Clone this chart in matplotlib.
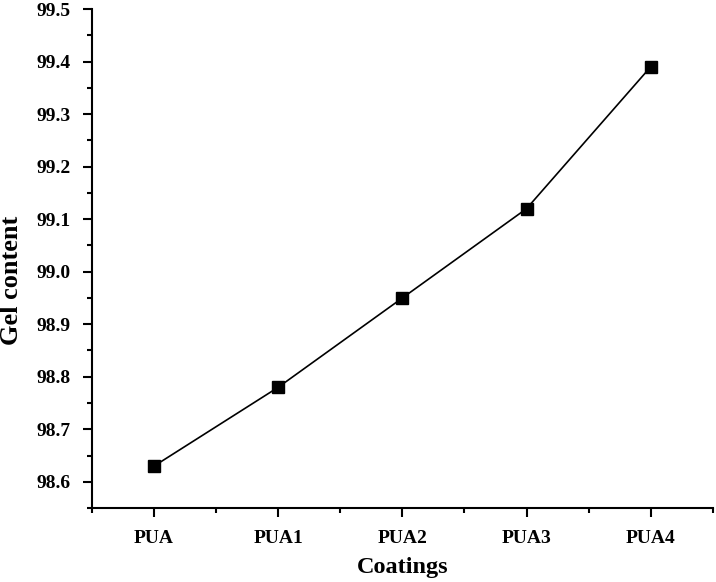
import matplotlib
matplotlib.use('Agg')
import matplotlib.pyplot as plt
from matplotlib.ticker import MultipleLocator

coatings = ['PUA', 'PUA1', 'PUA2', 'PUA3', 'PUA4']
gel_content = [98.63, 98.78, 98.95, 99.12, 99.39]

plt.rcParams['font.family'] = ['Liberation Serif', 'DejaVu Serif']
plt.rcParams['font.weight'] = 'bold'

fig = plt.figure(figsize=(7.16, 5.82), dpi=100)
ax = fig.add_axes([0.1285, 0.127, 0.867, 0.8575])

x = list(range(len(coatings)))
ax.plot(x, gel_content, color='black', lw=1.2, marker='s', ms=8.5,
        mfc='black', mec='black')

ax.set_xlim(-0.5, 4.5)
ax.set_ylim(98.55, 99.5)
ax.set_xticks(x)
ax.set_xticklabels(coatings)
ax.xaxis.set_minor_locator(MultipleLocator(0.5))
ax.yaxis.set_major_locator(MultipleLocator(0.1))
ax.yaxis.set_minor_locator(MultipleLocator(0.05))
ax.yaxis.set_major_formatter(plt.FormatStrFormatter('%.1f'))

for s in ['top', 'right']:
    ax.spines[s].set_visible(False)
for s in ['left', 'bottom']:
    ax.spines[s].set_linewidth(1.5)

ax.tick_params(which='major', length=6.5, width=1.5, labelsize=14, pad=9)
ax.tick_params(which='minor', length=3.5, width=1.5)
for lab in ax.get_xticklabels() + ax.get_yticklabels():
    lab.set_fontweight('bold')

ax.set_xlabel('Coatings', fontsize=17.5, fontweight='bold', va='center')
ax.set_ylabel('Gel content', fontsize=19, fontweight='bold', va='center')
ax.xaxis.set_label_coords(0.5, -0.12)
ax.yaxis.set_label_coords(-0.129, 0.457)

fig.savefig('out.png', dpi=100)
